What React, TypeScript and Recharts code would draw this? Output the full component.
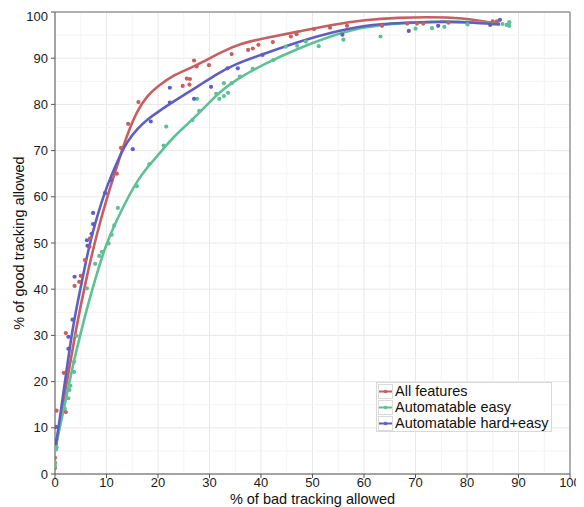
import React from "react";
import {
  ComposedChart,
  XAxis,
  YAxis,
  CartesianGrid,
  Scatter,
  Line,
  ReferenceLine,
} from "recharts";

const FONT = "'Liberation Sans', Arial, Helvetica, sans-serif";

const RED = "#c65f5f";
const GREEN = "#5fc095";
const BLUE = "#5f5fc2";

const majorTicks = [0, 10, 20, 30, 40, 50, 60, 70, 80, 90, 100];
const minorTicks = [5, 15, 25, 35, 45, 55, 65, 75, 85, 95];

// scatter points, [bad %, good %]
const allFeaturesPts: [number, number][] = [
  [0, 1.3], [0, 2.4], [0, 3.5], [0.3, 13.7], [2.1, 13.4], [1.7, 21.9],
  [2.1, 30.5], [3.8, 40.7], [4.7, 41.6], [5.0, 42.9], [5.8, 46.3],
  [6.7, 49.2], [6.8, 51.0], [9.8, 60.8], [12.0, 65.0], [12.8, 70.6],
  [14.2, 75.8], [16.2, 80.5], [24.8, 84.0], [25.6, 85.6], [26.2, 85.5],
  [26.1, 84.3], [27.0, 89.5], [27.5, 88.2], [29.9, 88.5], [34.3, 90.9],
  [37.5, 91.8], [38.4, 92.1], [39.5, 92.9], [42.3, 93.5], [45.8, 94.7],
  [46.9, 95.2], [50.3, 96.3], [53.4, 96.6], [56.7, 97.0], [63.5, 97.0],
  [68.4, 97.5], [70.3, 97.5], [71.5, 97.5], [76.4, 97.7], [85.0, 98.0],
  [85.8, 98.0],
];

const easyPts: [number, number][] = [
  [0, 1.7], [0, 2.4], [0.2, 5.3], [0.3, 5.8], [1.9, 14.1], [2.6, 16.4],
  [2.8, 18.2], [3.0, 19.1], [3.7, 22.1], [3.7, 24.3], [4.2, 29.9],
  [6.2, 40.2], [7.8, 45.5], [8.6, 47.2], [9.1, 48.1], [10.4, 49.9],
  [11.0, 51.8], [11.5, 53.8], [12.2, 57.6], [15.9, 62.3], [18.3, 67.1],
  [21.1, 71.1], [21.6, 75.2], [26.7, 76.6], [28.0, 78.6], [27.6, 81.2],
  [31.3, 82.3], [31.9, 81.2], [32.8, 81.8], [33.6, 82.5], [32.8, 84.6],
  [34.3, 84.6], [35.9, 86.0], [38.4, 87.7], [42.4, 89.6], [44.8, 92.5],
  [47.0, 92.7], [48.7, 93.6], [51.2, 92.6], [56.0, 94.0], [63.2, 94.7],
  [70.0, 96.4], [73.2, 96.5], [75.6, 96.8], [80.1, 97.3], [86.9, 97.4],
  [87.7, 97.2], [88.2, 97.8], [88.2, 97.0],
];

const hardEasyPts: [number, number][] = [
  [0.2, 7.4], [0.2, 10.2], [2.6, 27.1], [2.6, 29.7], [3.4, 33.4],
  [3.8, 42.7], [6.2, 50.6], [6.3, 49.4], [7.1, 52.0], [7.4, 54.1],
  [7.4, 56.5], [9.7, 60.8], [10.9, 63.6], [15.1, 70.3], [18.6, 76.3],
  [22.3, 80.4], [22.3, 83.6], [27.0, 81.2], [30.3, 83.8], [33.5, 87.8],
  [35.5, 87.8], [40.3, 90.7], [55.8, 95.1], [68.7, 95.9], [74.4, 97.0],
  [84.5, 97.2], [86.4, 98.3],
];

// smoothed fits
const allFeaturesFit: [number, number][] = [
  [0, 5], [2, 18], [4, 31], [6, 42], [8, 51.5], [10, 59.5], [12, 66.5],
  [14, 73.5], [16, 78.8], [18, 82], [20, 84], [23, 86.3], [26, 87.7],
  [29, 89.3], [32, 91.2], [36, 93.2], [41, 94.4], [47, 95.7], [54, 97.3],
  [60, 98.3], [67, 98.8], [72, 98.9], [79, 98.8], [86.4, 97.4],
];

const easyFit: [number, number][] = [
  [0, 5], [1, 10.5], [2, 15.5], [3, 21], [4, 26], [5, 30.5], [6, 35],
  [8, 43], [10, 50], [12, 55], [14, 59.5], [16, 63.5], [18, 66.5],
  [20, 69], [23, 73], [26, 76], [29, 79.3], [32, 82.7], [35, 85.3],
  [41, 89], [47, 92], [54, 95], [60, 96.8], [67, 97.6], [75, 98],
  [80, 97.9], [86.4, 97.5],
];

const hardEasyFit: [number, number][] = [
  [0, 5], [1, 12.5], [2, 20.5], [3, 28.5], [4, 35], [5, 40.5], [6, 46],
  [7, 51], [8, 55], [9, 58.7], [10, 62], [12, 67.5], [14, 72], [16, 74.8],
  [18, 76.8], [20, 78.4], [23, 80.6], [26, 82.7], [28, 84.1], [31, 86.3],
  [35, 88.8], [41, 91.1], [47, 93.5], [54, 95.7], [60, 97.1], [67, 97.7],
  [75, 97.9], [80, 97.8], [86.4, 97.3],
];

const toRows = (pts: [number, number][]) => pts.map(([x, y]) => ({ x, y }));

const series = [
  { name: "All features", color: RED, pts: allFeaturesPts, fit: allFeaturesFit },
  { name: "Automatable easy", color: GREEN, pts: easyPts, fit: easyFit },
  { name: "Automatable hard+easy", color: BLUE, pts: hardEasyPts, fit: hardEasyFit },
];

const dotShape = (color: string) => (p: any) =>
  <circle cx={p.cx} cy={p.cy} r={2.1} fill={color} />;

const LegendBox = () => (
  <div
    style={{
      position: "absolute",
      left: 368,
      top: 374,
      background: "#fff",
      border: "1px solid #d9d9d9",
      padding: "0px 2px 0px 1px",
      fontFamily: FONT,
      fontSize: 14.5,
      lineHeight: "16px",
      color: "#111",
    }}
  >
    {series.map((s) => (
      <div key={s.name} style={{ display: "flex", alignItems: "center", height: 16 }}>
        <svg width={15} height={15} style={{ display: "block" }}>
          <rect x={0.5} y={0.5} width={14} height={14} fill="#fff" stroke="#dadada" />
          <line x1={1} x2={14} y1={7.5} y2={7.5} stroke={s.color} strokeWidth={2} />
          <circle cx={7.5} cy={7.5} r={1.8} fill={s.color} />
        </svg>
        <span style={{ marginLeft: 2 }}>{s.name}</span>
      </div>
    ))}
  </div>
);

export default function App() {
  return (
    <div style={{ position: "relative", width: 576, height: 499 }}>
      <ComposedChart
        width={576}
        height={499}
        margin={{ top: 4, right: 14, left: 0, bottom: 0 }}
        style={{ fontFamily: FONT }}
      >
        <CartesianGrid stroke="#e8e8e8" strokeWidth={1} />
        {minorTicks.map((v) => (
          <ReferenceLine key={"mx" + v} x={v} stroke="#f4f4f4" />
        ))}
        {minorTicks.map((v) => (
          <ReferenceLine key={"my" + v} y={v} stroke="#f4f4f4" />
        ))}
        <ReferenceLine x={100} stroke="#9a9a9a" strokeWidth={1.5} />
        <ReferenceLine y={100} stroke="#9a9a9a" strokeWidth={1.5} />
        <XAxis
          dataKey="x"
          type="number"
          domain={[0, 100]}
          ticks={majorTicks}
          allowDataOverflow
          height={33}
          tickSize={4}
          tickMargin={0}
          stroke="#555"
          tick={{ fill: "#1a1a1a", fontSize: 13 }}
          label={{
            value: "% of bad tracking allowed",
            position: "insideBottom",
            offset: 3,
            fill: "#111",
            fontSize: 14.5,
          }}
        />
        <YAxis
          dataKey="y"
          type="number"
          domain={[0, 100]}
          ticks={majorTicks}
          allowDataOverflow
          width={47}
          tickSize={4}
          tickMargin={3}
          stroke="#555"
          tick={{ fill: "#1a1a1a", fontSize: 13 }}
          label={{
            value: "% of good tracking allowed",
            angle: -90,
            position: "insideLeft",
            offset: 11,
            fill: "#111",
            fontSize: 14.5,
            style: { textAnchor: "middle" },
          }}
        />
        {series.map((s) => (
          <Scatter
            key={"pts" + s.name}
            name={s.name}
            data={toRows(s.pts)}
            dataKey="y"
            shape={dotShape(s.color)}
            isAnimationActive={false}
          />
        ))}
        {series.map((s) => (
          <Line
            key={"fit" + s.name}
            data={toRows(s.fit)}
            dataKey="y"
            type="basis"
            stroke={s.color}
            strokeWidth={2.6}
            dot={false}
            activeDot={false}
            isAnimationActive={false}
          />
        ))}
      </ComposedChart>
      <LegendBox />
    </div>
  );
}
